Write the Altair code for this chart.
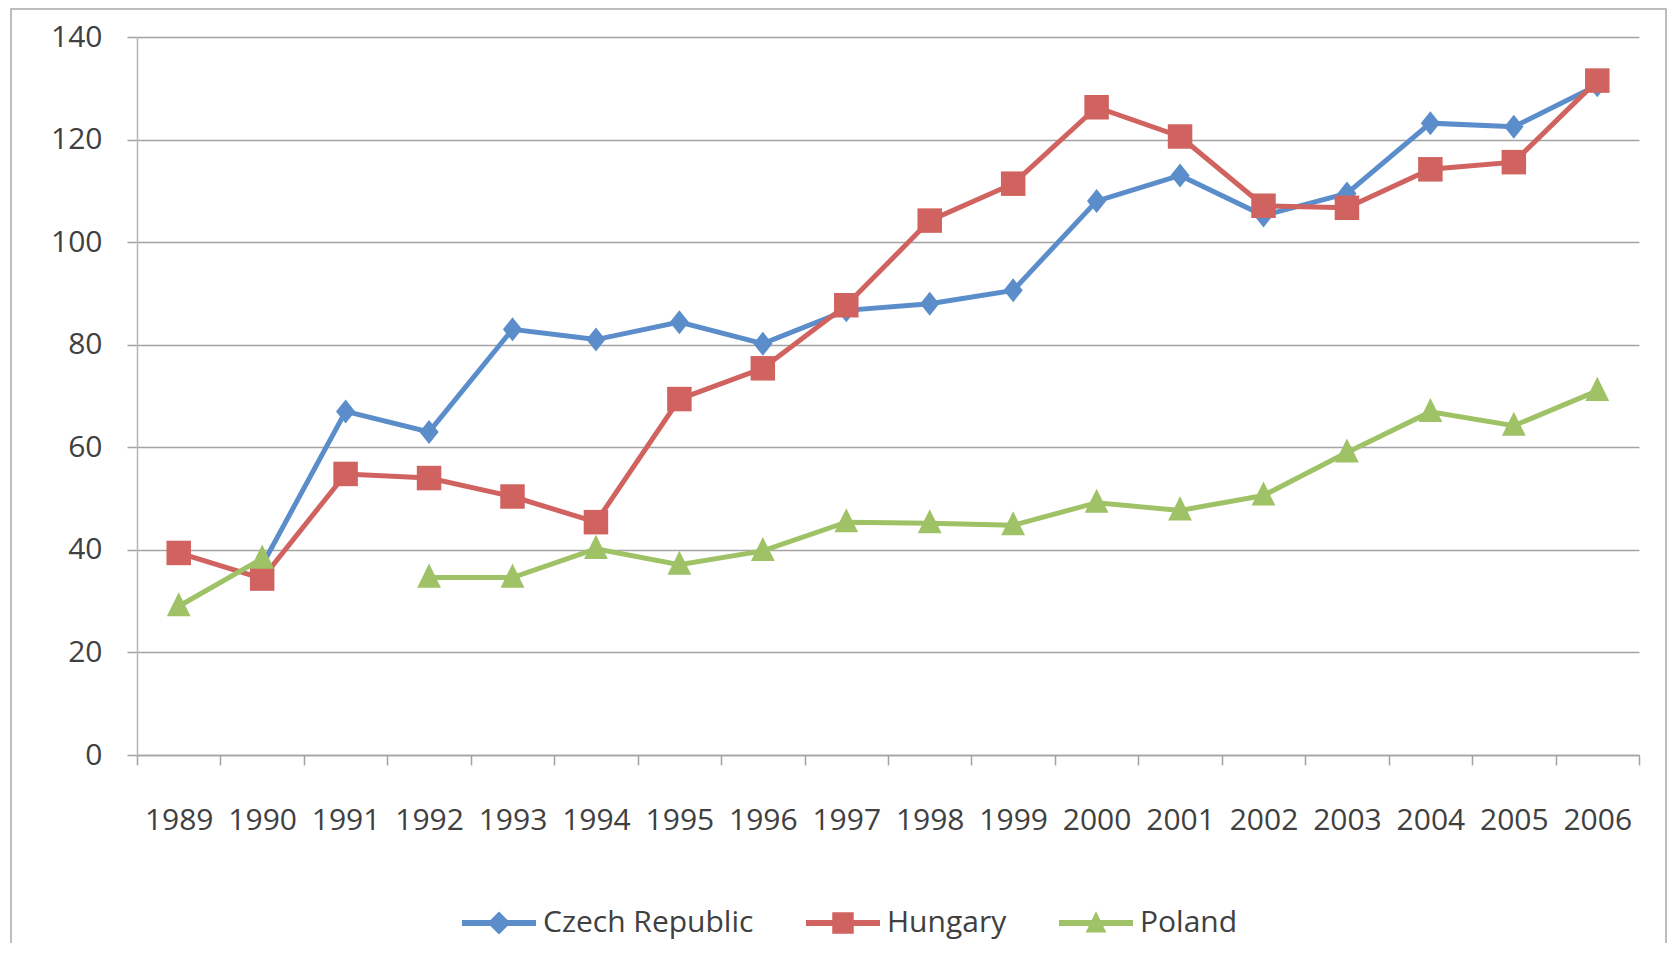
import altair as alt
import pandas as pd

years = [str(y) for y in range(1989, 2007)]
series_names = ["Czech Republic", "Hungary", "Poland"]

czech = [None, 37, 67, 63, 83, 81, 84.4, 80.2, 86.7, 88, 90.6, 108, 113, 105.2, 109.5, 123.2, 122.5, 130.6]
hungary = [39.4, 34.4, 54.8, 54, 50.4, 45.4, 69.4, 75.4, 87.7, 104.2, 111.4, 126.3, 120.6, 107.1, 106.7, 114.2, 115.6, 131.5]
poland = [29, 38.3, None, 34.6, 34.6, 40.2, 37.1, 39.8, 45.4, 45.2, 44.8, 49.2, 47.7, 50.6, 59, 66.9, 64.2, 71]

colors = ["#5b8dcb", "#d0625f", "#9ec265"]

rows = []
for name, vals in zip(series_names, [czech, hungary, poland]):
    seg = 0
    for yr, v in zip(years, vals):
        if v is None:
            seg += 1
            continue
        rows.append({"year": yr, "series": name, "value": v, "segment": f"{name}-{seg}"})
df = pd.DataFrame(rows)

FONT = "Open Sans"
LABEL_COLOR = "#404040"
GRID = "#a3a3a3"

x_enc = alt.X("year:O", sort=years,
              scale=alt.Scale(type="band", paddingInner=0, paddingOuter=0),
              axis=alt.Axis(title=None, labelAngle=0, tickBand="extent", tickSize=10,
                            labelPadding=40, labelFontSize=30, labelFont=FONT,
                            labelColor=LABEL_COLOR, domainColor=GRID, tickColor=GRID,
                            domainWidth=1.5, tickWidth=1.5, grid=False, labelOverlap=False))
y_enc = alt.Y("value:Q",
              scale=alt.Scale(domain=[0, 140], nice=False, zero=True),
              axis=alt.Axis(title=None, values=list(range(0, 141, 20)), tickSize=10,
                            labelPadding=25, labelFontSize=30, labelFont=FONT,
                            labelColor=LABEL_COLOR, domainColor="#b5b5b5", tickColor=GRID,
                            gridColor=GRID, gridWidth=1.5, domainWidth=1.5, tickWidth=1.5))

color_scale = alt.Scale(domain=series_names, range=colors)

marker_paths = {
    "Czech Republic": "M0,-1L0.8,0L0,1L-0.8,0Z",
    "Hungary": "square",
    "Poland": "M0,-1L0.85,0.72L-0.85,0.72Z",
}
marker_sizes = {"Czech Republic": 576, "Hungary": 600, "Poland": 784}

legend_paths = [
    "M-1,-0.08L-0.23,-0.08L0,-0.31L0.23,-0.08L1,-0.08L1,0.08L0.23,0.08L0,0.31L-0.23,0.08L-1,0.08Z",
    "M-1,-0.08L-0.29,-0.08L-0.29,-0.29L0.29,-0.29L0.29,-0.08L1,-0.08L1,0.08L0.29,0.08L0.29,0.29L-0.29,0.29L-0.29,0.08L-1,0.08Z",
    "M-1,-0.08L-0.116,-0.08L0,-0.32L0.116,-0.08L1,-0.08L1,0.08L0.193,0.08L0.28,0.26L-0.28,0.26L-0.193,0.08L-1,0.08Z",
]

base = alt.Chart(df)

layers = []
for name in series_names:
    sub = base.transform_filter(alt.datum.series == name)
    line = sub.mark_line(strokeWidth=5).encode(
        x=x_enc, y=y_enc,
        color=alt.Color("series:N", scale=color_scale),
        detail="segment:N",
    )
    pts = sub.mark_point(filled=True, opacity=1, shape=marker_paths[name],
                         size=marker_sizes[name], strokeWidth=0).encode(
        x=x_enc, y=y_enc,
        color=alt.Color("series:N", scale=color_scale),
    )
    layers += [line, pts]

legend_layer = base.mark_point(filled=True, opacity=0).encode(
    x=x_enc, y=y_enc,
    color=alt.Color("series:N", scale=color_scale),
    shape=alt.Shape("series:N", scale=alt.Scale(domain=series_names, range=legend_paths)),
)

border = alt.Chart(alt.Data(values=[{"a": 1}])).mark_rect(
    filled=False, stroke="#a8a8a8", strokeWidth=1.5
).encode(x=alt.value(-126), x2=alt.value(1529), y=alt.value(-28), y2=alt.value(940))

chart = alt.layer(border, *layers, legend_layer).properties(
    width=1502, height=718,
    padding={"left": 129, "top": 29, "right": 29, "bottom": 188},
    autosize=alt.AutoSizeParams(type="none"),
).configure_view(stroke=None).configure_legend(
    orient="none", legendX=325, legendY=849, direction="horizontal", title=None,
    labelFont=FONT, labelFontSize=30, labelColor=LABEL_COLOR, labelOffset=7,
    columnPadding=52, symbolSize=5476, symbolStrokeWidth=0, symbolOpacity=1,
    labelLimit=400,
)

chart.save("out.html", embed_options={"renderer": "svg", "actions": False})
